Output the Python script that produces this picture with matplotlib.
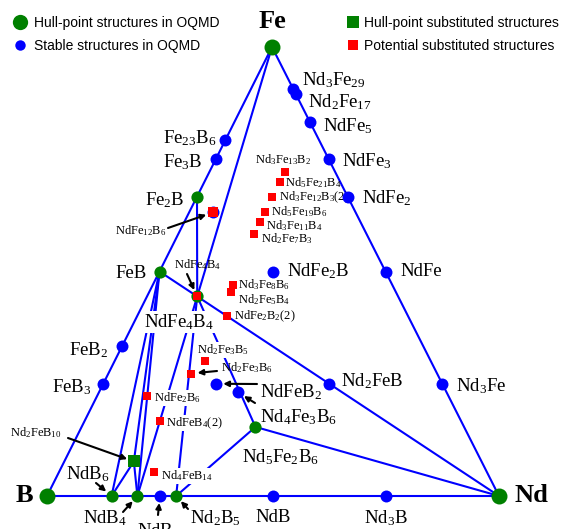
import numpy as np
import matplotlib
matplotlib.use('Agg')
import matplotlib.pyplot as plt
from matplotlib.lines import Line2D

plt.rcParams['font.family'] = 'Liberation Serif'
plt.rcParams['mathtext.fontset'] = 'custom'
plt.rcParams['mathtext.rm'] = 'Liberation Serif'
plt.rcParams['mathtext.it'] = 'Liberation Serif:italic'
plt.rcParams['mathtext.bf'] = 'Liberation Serif:bold'

# compositions as (Nd, Fe, B) atom counts
comp = {
    'Fe': (0, 1, 0), 'B': (0, 0, 1), 'Nd': (1, 0, 0),
    'Fe2B': (0, 2, 1), 'FeB': (0, 1, 1), 'NdFe4B4': (1, 4, 4),
    'Nd5Fe2B6': (5, 2, 6), 'NdB6': (1, 0, 6), 'NdB4': (1, 0, 4), 'Nd2B5': (2, 0, 5),
    'Fe23B6': (0, 23, 6), 'Fe3B': (0, 3, 1), 'FeB2': (0, 1, 2), 'FeB3': (0, 1, 3),
    'Nd3Fe29': (3, 29, 0), 'Nd2Fe17': (2, 17, 0), 'NdFe5': (1, 5, 0), 'NdFe3': (1, 3, 0),
    'NdFe2': (1, 2, 0), 'NdFe': (1, 1, 0), 'Nd3Fe': (3, 1, 0),
    'NdB3': (1, 0, 3), 'NdB': (1, 0, 1), 'Nd3B': (3, 0, 1),
    'NdFe12B6': (1, 12, 6), 'NdFe2B': (1, 2, 1), 'Nd2FeB': (2, 1, 1),
    'NdFeB2': (1, 1, 2), 'Nd4Fe3B6': (4, 3, 6),
    'Nd2FeB10': (2, 1, 10),
    'Nd3Fe13B2': (3, 13, 2), 'Nd5Fe21B4': (5, 21, 4), 'Nd3Fe12B3(2)': (3, 12, 3),
    'Nd5Fe19B6': (5, 19, 6), 'Nd3Fe11B4': (3, 11, 4), 'Nd2Fe7B3': (2, 7, 3),
    'Nd3Fe8B6': (3, 8, 6), 'Nd2Fe5B4': (2, 5, 4), 'NdFe2B2(2)': (1, 2, 2),
    'Nd2Fe3B5': (2, 3, 5), 'Nd2Fe3B6': (2, 3, 6), 'NdFe2B6': (1, 2, 6),
    'NdFeB4(2)': (1, 1, 4), 'Nd4FeB14': (4, 1, 14),
}

elements = ['Fe', 'B', 'Nd']
hull = ['Fe2B', 'FeB', 'NdFe4B4', 'Nd5Fe2B6', 'NdB6', 'NdB4', 'Nd2B5']
stable = ['Fe23B6', 'Fe3B', 'FeB2', 'FeB3', 'Nd3Fe29', 'Nd2Fe17', 'NdFe5', 'NdFe3',
          'NdFe2', 'NdFe', 'Nd3Fe', 'NdB3', 'NdB', 'Nd3B', 'NdFe12B6', 'NdFe2B',
          'Nd2FeB', 'NdFeB2', 'Nd4Fe3B6']
sub_hull = ['Nd2FeB10']
potential = ['NdFe4B4', 'Nd3Fe13B2', 'Nd5Fe21B4', 'Nd3Fe12B3(2)', 'Nd5Fe19B6',
             'Nd3Fe11B4', 'Nd2Fe7B3', 'Nd3Fe8B6', 'Nd2Fe5B4', 'NdFe2B2(2)',
             'Nd2Fe3B5', 'Nd2Fe3B6', 'NdFe2B6', 'NdFeB4(2)', 'Nd4FeB14']

ties = [('Fe', 'B'), ('B', 'Nd'), ('Nd', 'Fe'),
        ('Fe', 'NdFe4B4'), ('Fe2B', 'NdFe4B4'), ('FeB', 'NdFe4B4'),
        ('NdFe4B4', 'Nd'), ('Nd5Fe2B6', 'Nd'), ('NdFe4B4', 'Nd5Fe2B6'),
        ('Nd2B5', 'Nd5Fe2B6'), ('NdFe4B4', 'Nd2B5'), ('NdFe4B4', 'NdB4'),
        ('FeB', 'NdB6'), ('FeB', 'Nd2FeB10'), ('FeB', 'NdB4'),
        ('NdB6', 'Nd2FeB10'), ('Nd2FeB10', 'NdB4')]

# triangle corners (pixels)
VNd = np.array([499., 496.])
VFe = np.array([272., 47.])
VB = np.array([47., 496.])


def xy(name):
    c = np.array(comp[name], float)
    c = c / c.sum()
    return c[0] * VNd + c[1] * VFe + c[2] * VB


def pts(names):
    a = np.array([xy(n) for n in names])
    return a[:, 0], a[:, 1]


fig = plt.figure(figsize=(5.78, 5.29), dpi=100)
ax = fig.add_axes([0, 0, 1, 1])
ax.set_xlim(0, 578)
ax.set_ylim(529, 0)
ax.axis('off')

blue = '#0000ff'
green = '#008000'
red = '#ff0000'

for a, b in ties:
    p, q = xy(a), xy(b)
    ax.plot([p[0], q[0]], [p[1], q[1]], color=blue, lw=1.5, zorder=1)

x, y = pts(stable)
ax.plot(x, y, 'o', color=blue, ms=8.6, mew=0, zorder=4)
x, y = pts(hull)
ax.plot(x, y, 'o', color=green, ms=8.8, mew=0, zorder=4)
x, y = pts(elements)
ax.plot(x, y, 'o', color=green, ms=11.5, mew=0, zorder=4)
x, y = pts(sub_hull)
ax.plot(x, y, 's', color=green, ms=8.5, mew=0, zorder=5)
x, y = pts(potential)
ax.plot(x, y, 's', color=red, ms=5.5, mew=0, zorder=5)
x, y = pts(['NdFe12B6'])
ax.plot(x, y, 's', color=red, ms=7, mew=0, zorder=6)

# element labels
ax.text(272, 22, 'Fe', fontsize=19, fontweight='bold', ha='center', va='center')
ax.text(24, 496, 'B', fontsize=19, fontweight='bold', ha='center', va='center')
ax.text(531, 496, 'Nd', fontsize=19, fontweight='bold', ha='center', va='center')

big = 13.5
small = 9
box = dict(facecolor='white', edgecolor='none', pad=0.5)
labels = [
    (r'Nd$_3$Fe$_{29}$', 302, 80, 'left', big, None),
    (r'Nd$_2$Fe$_{17}$', 308, 102, 'left', big, None),
    (r'NdFe$_5$', 323, 126, 'left', big, None),
    (r'NdFe$_3$', 342, 161, 'left', big, None),
    (r'NdFe$_2$', 362, 198, 'left', big, None),
    (r'NdFe', 400, 272, 'left', big, None),
    (r'Nd$_3$Fe', 456, 386, 'left', big, None),
    (r'Fe$_{23}$B$_6$', 216, 138, 'right', big, None),
    (r'Fe$_3$B', 203, 162, 'right', big, None),
    (r'Fe$_2$B', 185, 200, 'right', big, None),
    (r'FeB', 147, 273, 'right', big, None),
    (r'FeB$_2$', 108, 350, 'right', big, None),
    (r'FeB$_3$', 91, 387, 'right', big, None),
    (r'NdFe$_2$B', 287, 271, 'left', big, None),
    (r'NdFe$_4$B$_4$', 144, 322, 'left', big, box),
    (r'Nd$_2$FeB', 341, 381, 'left', big, None),
    (r'NdFeB$_2$', 260, 392, 'left', big, None),
    (r'Nd$_4$Fe$_3$B$_6$', 260, 417, 'left', big, None),
    (r'Nd$_5$Fe$_2$B$_6$', 242, 457, 'left', big, None),
    (r'NdB$_6$', 66, 474, 'left', big, None),
    (r'NdB$_4$', 83, 518, 'left', big, None),
    (r'NdB$_3$', 137, 531, 'left', big, None),
    (r'Nd$_2$B$_5$', 190, 518, 'left', big, None),
    (r'NdB', 273, 518, 'center', big, None),
    (r'Nd$_3$B', 386, 518, 'center', big, None),
    (r'NdFe$_{12}$B$_6$', 115, 231, 'left', small, None),
    (r'NdFe$_4$B$_4$', 174, 265, 'left', small, None),
    (r'Nd$_3$Fe$_{13}$B$_2$', 255, 160, 'left', small, None),
    (r'Nd$_5$Fe$_{21}$B$_4$', 285, 183, 'left', small, None),
    (r'Nd$_3$Fe$_{12}$B$_3$(2)', 279, 197, 'left', small, None),
    (r'Nd$_5$Fe$_{19}$B$_6$', 271, 212, 'left', small, None),
    (r'Nd$_3$Fe$_{11}$B$_4$', 266, 226, 'left', small, None),
    (r'Nd$_2$Fe$_7$B$_3$', 261, 239, 'left', small, None),
    (r'Nd$_3$Fe$_8$B$_6$', 238, 285, 'left', small, None),
    (r'Nd$_2$Fe$_5$B$_4$', 238, 300, 'left', small, None),
    (r'NdFe$_2$B$_2$(2)', 234, 316, 'left', small, None),
    (r'Nd$_2$Fe$_3$B$_5$', 197, 350, 'left', small, box),
    (r'Nd$_2$Fe$_3$B$_6$', 221, 368, 'left', small, None),
    (r'NdFe$_2$B$_6$', 154, 398, 'left', small, box),
    (r'NdFeB$_4$(2)', 166, 423, 'left', small, box),
    (r'Nd$_4$FeB$_{14}$', 161, 476, 'left', small, box),
    (r'Nd$_2$FeB$_{10}$', 10, 433, 'left', small, None),
]
for t, lx, ly, ha, fs, bb in labels:
    ax.text(lx, ly, t, fontsize=fs, ha=ha, va='center', bbox=bb, zorder=3)

arrows = [
    ((168, 228), 'NdFe12B6'), ((187, 274), 'NdFe4B4'), ((217, 371), 'Nd2Fe3B6'),
    ((257, 384), 'NdFeB2'), ((255, 403), 'Nd4Fe3B6'), ((68, 438), 'Nd2FeB10'),
    ((96, 483), 'NdB6'), ((123, 512), 'NdB4'), ((158, 515), 'NdB3'),
    ((188, 509), 'Nd2B5'),
]
for start, target in arrows:
    p = xy(target)
    d = p - np.array(start)
    end = np.array(start) + d * (1 - 7 / np.hypot(*d))
    ax.annotate('', xy=end, xytext=start,
                arrowprops=dict(arrowstyle='-|>', color='k', lw=1.5,
                                mutation_scale=8, shrinkA=0, shrinkB=0), zorder=6)

h1 = [Line2D([], [], marker='o', ls='', color=green, ms=11, mew=0),
      Line2D([], [], marker='o', ls='', color=blue, ms=7.5, mew=0)]
leg1 = ax.legend(h1, ['Hull-point structures in OQMD', 'Stable structures in OQMD'],
                 loc='upper left', bbox_to_anchor=(-0.003, 0.993), frameon=False,
                 prop={'family': 'Liberation Sans', 'size': 10},
                 handletextpad=0.3, labelspacing=0.6, handlelength=1.4)
ax.add_artist(leg1)
h2 = [Line2D([], [], marker='s', ls='', color=green, ms=8.5, mew=0),
      Line2D([], [], marker='s', ls='', color=red, ms=7.5, mew=0)]
ax.legend(h2, ['Hull-point substituted structures', 'Potential substituted structures'],
          loc='upper left', bbox_to_anchor=(0.577, 0.993), frameon=False,
          prop={'family': 'Liberation Sans', 'size': 10},
          handletextpad=0.3, labelspacing=0.6, handlelength=1.0)

fig.savefig('out.png', dpi=100)
